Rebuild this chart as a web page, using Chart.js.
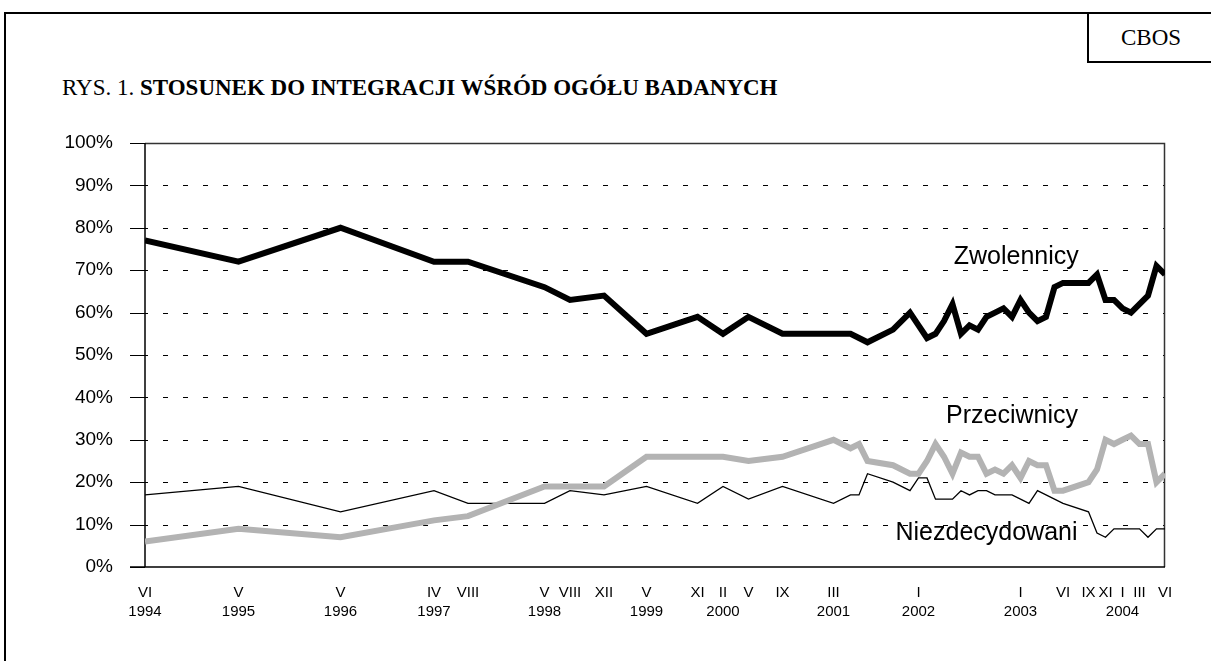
<!DOCTYPE html>
<html>
<head>
<meta charset="utf-8">
<script src="https://cdn.jsdelivr.net/npm/chart.js@4.4.1/dist/chart.umd.min.js"></script>
<style>
  html, body { margin: 0; padding: 0; background: #fff; }
  #wrap { position: relative; width: 1211px; height: 661px; overflow: hidden; }
  #frame { position: absolute; left: 4px; top: 12px; width: 1300px; height: 800px;
           border-top: 2px solid #000; border-left: 2px solid #000; }
  #cbos { position: absolute; left: 1087px; top: 12px; width: 124px; height: 49px;
          border-left: 2px solid #000; border-bottom: 2px solid #000;
          font: 23px "Liberation Serif", serif; line-height: 52px; text-align: center; }
  #title { position: absolute; left: 62px; top: 75px; font: 23px "Liberation Serif", serif;
           white-space: nowrap; }
  #title b { font-weight: bold; }
  canvas { position: absolute; left: 0; top: 0; }
</style>
</head>
<body>
<div id="wrap">
  <div id="frame"></div>
  <div id="cbos">CBOS</div>
  <div id="title">RYS. 1. <b>STOSUNEK DO INTEGRACJI WŚRÓD OGÓŁU BADANYCH</b></div>
  <canvas id="chart" width="1211" height="661"></canvas>
</div>
<script>
// months counted from VI 1994 (0) to VI 2004 (120)
const months = [0, 11, 23, 34, 38, 47, 50, 54, 59, 65, 68, 71, 75, 81, 83, 84, 85, 88, 90, 91,
  92, 93, 94, 95, 96, 97, 98, 99, 100, 101, 102, 103, 104, 105, 106, 107, 108, 111, 112, 113,
  114, 115, 116, 117, 118, 119, 120];
const zwolennicy = [77, 72, 80, 72, 72, 66, 63, 64, 55, 59, 55, 59, 55, 55, 55, 54, 53, 56, 60, 57,
  54, 55, 58, 62, 55, 57, 56, 59, 60, 61, 59, 63, 60, 58, 59, 66, 67, 67, 69, 63,
  63, 61, 60, 62, 64, 71, 69];
const przeciwnicy = [6, 9, 7, 11, 12, 19, 19, 19, 26, 26, 26, 25, 26, 30, 28, 29, 25, 24, 22, 22,
  25, 29, 26, 22, 27, 26, 26, 22, 23, 22, 24, 21, 25, 24, 24, 18, 18, 20, 23, 30,
  29, 30, 31, 29, 29, 20, 22];
const niezdecydowani = [17, 19, 13, 18, 15, 15, 18, 17, 19, 15, 19, 16, 19, 15, 17, 17, 22, 20, 18, 21,
  21, 16, 16, 16, 18, 17, 18, 18, 17, 17, 17, 16, 15, 18, 17, 16, 15, 13, 8, 7,
  9, 9, 9, 9, 7, 9, 9];

const tickMonths = [0, 11, 23, 34, 38, 47, 50, 54, 59, 65, 68, 71, 75, 81, 91, 103, 108, 111, 113, 115, 117, 120];
const tickRoman = ['VI', 'V', 'V', 'IV', 'VIII', 'V', 'VIII', 'XII', 'V', 'XI', 'II', 'V', 'IX', 'III',
  'I', 'I', 'VI', 'IX', 'XI', 'I', 'III', 'VI'];
const tickYears = ['1994', '1995', '1996', '1997', '', '1998', '', '', '1999', '', '2000', '', '', '2001',
  '2002', '2003', '', '', '', '2004', '', ''];
const yTicks = [0, 10, 20, 30, 40, 50, 60, 70, 80, 90, 100];

const seriesLabels = [
  { text: 'Zwolennicy', month: 102.5, value: 73 },
  { text: 'Przeciwnicy', month: 102, value: 35.5 },
  { text: 'Niezdecydowani', month: 99, value: 8 }
];

const toPoints = vals => months.map((m, i) => ({ x: m, y: vals[i] }));

const axesAndGrid = {
  id: 'axesAndGrid',
  beforeDatasetsDraw(chart) {
    const { ctx, chartArea: { left, right, top, bottom }, scales: { y } } = chart;
    ctx.save();
    ctx.strokeStyle = '#000';
    ctx.lineWidth = 1;
    ctx.setLineDash([5, 15]);
    ctx.lineDashOffset = 2;
    yTicks.forEach(v => {
      if (v === 0 || v === 100) return;
      const py = Math.round(y.getPixelForValue(v)) + 0.5;
      ctx.beginPath();
      ctx.moveTo(left, py);
      ctx.lineTo(right, py);
      ctx.stroke();
    });
    ctx.setLineDash([]);
    yTicks.forEach(v => {
      const py = Math.round(y.getPixelForValue(v)) + 0.5;
      ctx.beginPath();
      ctx.moveTo(left - 15, py);
      ctx.lineTo(left, py);
      ctx.stroke();
    });
    // plot area frame
    ctx.strokeStyle = '#333';
    ctx.lineWidth = 1.5;
    ctx.beginPath();
    ctx.moveTo(left, top + 0.5);
    ctx.lineTo(right - 0.5, top + 0.5);
    ctx.lineTo(right - 0.5, bottom);
    ctx.stroke();
    ctx.strokeStyle = '#000';
    ctx.beginPath();
    ctx.moveTo(left, top);
    ctx.lineTo(left, bottom);
    ctx.moveTo(left - 15, bottom);
    ctx.lineTo(right, bottom);
    ctx.stroke();
    ctx.restore();
  },
  afterDatasetsDraw(chart) {
    const { ctx, scales: { x, y } } = chart;
    ctx.save();
    ctx.fillStyle = '#000';
    ctx.font = '25px "Liberation Sans", Arial, sans-serif';
    ctx.textAlign = 'center';
    ctx.textBaseline = 'middle';
    seriesLabels.forEach(l => {
      ctx.fillText(l.text, x.getPixelForValue(l.month), y.getPixelForValue(l.value));
    });
    ctx.restore();
  }
};

new Chart(document.getElementById('chart'), {
  type: 'line',
  plugins: [axesAndGrid],
  data: {
    datasets: [
      { label: 'Zwolennicy', data: toPoints(zwolennicy), borderColor: '#000', borderWidth: 6 },
      { label: 'Przeciwnicy', data: toPoints(przeciwnicy), borderColor: '#b3b3b3', borderWidth: 6 },
      { label: 'Niezdecydowani', data: toPoints(niezdecydowani), borderColor: '#000', borderWidth: 1.3 }
    ]
  },
  options: {
    responsive: false,
    devicePixelRatio: 1,
    animation: false,
    layout: { padding: { left: 0, top: 143, right: 46, bottom: 0 } },
    elements: { point: { radius: 0 }, line: { tension: 0 } },
    plugins: { legend: { display: false }, tooltip: { enabled: false } },
    scales: {
      x: {
        type: 'linear',
        min: 0,
        max: 120,
        grid: { display: false, drawTicks: false },
        border: { display: false },
        afterFit(scale) { scale.height = 94; },
        afterBuildTicks(scale) { scale.ticks = tickMonths.map(v => ({ value: v })); },
        ticks: {
          autoSkip: false,
          maxRotation: 0,
          padding: 16,
          color: '#000',
          font: { family: '"Liberation Sans", Arial, sans-serif', size: 15, lineHeight: 1.27 },
          callback(value) {
            const i = tickMonths.indexOf(value);
            return tickYears[i] ? [tickRoman[i], tickYears[i]] : [tickRoman[i], ' '];
          }
        }
      },
      y: {
        min: 0,
        max: 100,
        grid: { display: false, drawTicks: false },
        border: { display: false },
        afterFit(scale) { scale.width = 145; },
        afterBuildTicks(scale) { scale.ticks = yTicks.map(v => ({ value: v })); },
        ticks: {
          padding: 32,
          color: '#000',
          font: { family: '"Liberation Sans", Arial, sans-serif', size: 19 },
          callback: v => v + '%'
        }
      }
    }
  }
});
</script>
</body>
</html>
